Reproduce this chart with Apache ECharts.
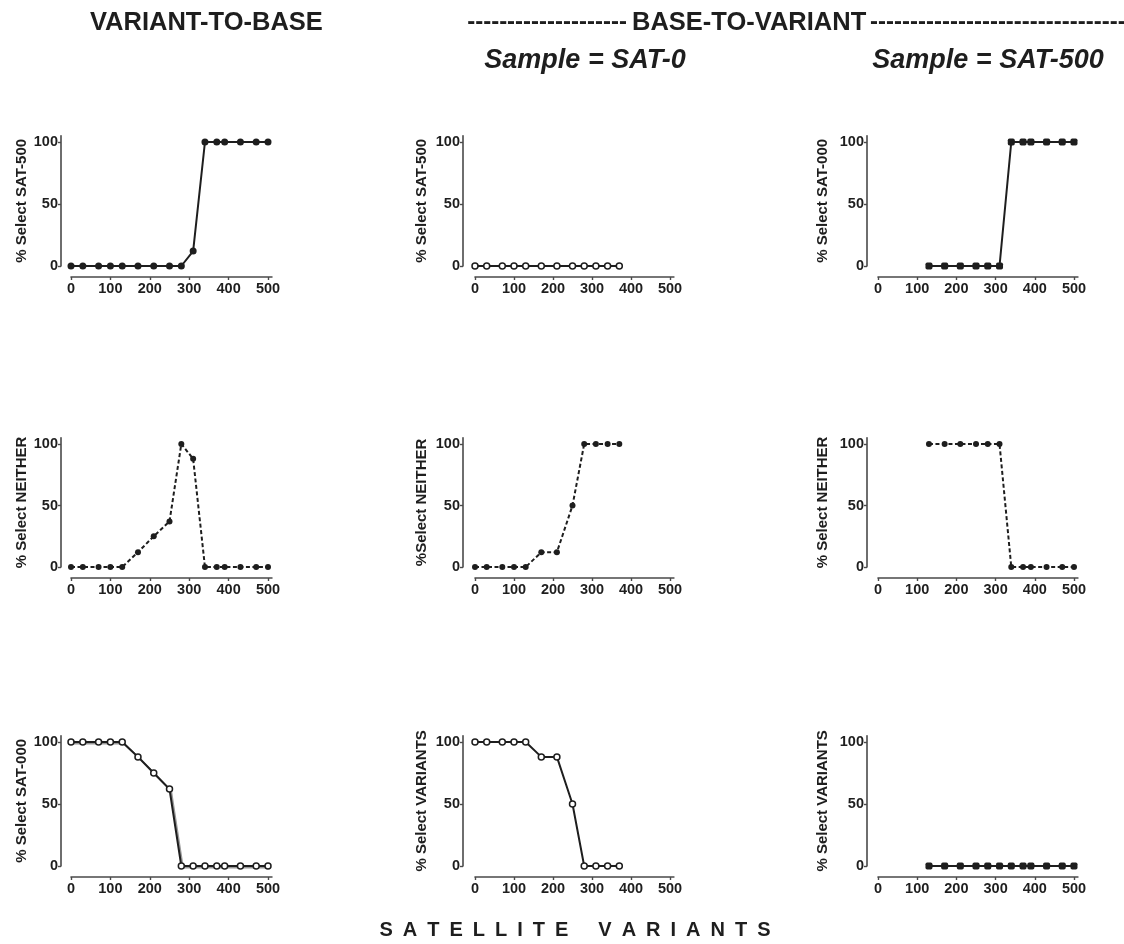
<!DOCTYPE html>
<html>
<head>
<meta charset="utf-8">
<script src="https://cdn.jsdelivr.net/npm/echarts@6/dist/echarts.min.js"></script>
<style>html,body{margin:0;padding:0;background:#fff}#c{width:1124px;height:944px}</style>
</head>
<body>
<div id="c"></div>
<script>
// ---- data ----
const xAll = [0,30,70,100,130,170,210,250,280,310,340,370,390,430,470,500];
const xSat0 = [0,30,70,100,130,170,210,250,280,310,340,370];
const xSat500 = [130,170,210,250,280,310,340,370,390,430,470,500];

const v2bSat500  = [0,0,0,0,0,0,0,0,0,12,100,100,100,100,100,100];
const v2bNeither = [0,0,0,0,0,12,25,37,100,88,0,0,0,0,0,0];
const v2bSat000  = [100,100,100,100,100,88,75,62,0,0,0,0,0,0,0,0];

const s0Sat500   = [0,0,0,0,0,0,0,0,0,0,0,0];
const s0Neither  = [0,0,0,0,0,12,12,50,100,100,100,100];
const s0Variants = [100,100,100,100,100,88,88,50,0,0,0,0];

const s500Sat000   = [0,0,0,0,0,0,100,100,100,100,100,100];
const s500Neither  = [100,100,100,100,100,100,0,0,0,0,0,0];
const s500Variants = [0,0,0,0,0,0,0,0,0,0,0,0];

const xTicks = [0,100,200,300,400,500];
const yTicks = [0,50,100];

const yNames = [
  ['% Select SAT-500','% Select SAT-500','% Select SAT-000'],
  ['% Select NEITHER','%Select NEITHER','% Select NEITHER'],
  ['% Select SAT-000','% Select VARIANTS','% Select VARIANTS']
];
const panelX = [[xAll,xSat0,xSat500],[xAll,xSat0,xSat500],[xAll,xSat0,xSat500]];
const panelY = [[v2bSat500,s0Sat500,s500Sat000],[v2bNeither,s0Neither,s500Neither],[v2bSat000,s0Variants,s500Variants]];

// ---- layout / style ----
const colX0 = [71, 475, 878];
const colX500 = [268, 670, 1074];
const colYOff = [10, 12, 11];
const colNameGap = [32, 34, 37];
const rowY0 = [266, 567, 866];
const rowY100 = [142, 444, 742];
const XMAX = 510, YMAX = 105;
const FONT = '"Liberation Sans", Arial, sans-serif';
const INK = '#1e1e1e';
const AX = '#4a4a4a';

// marker styles per panel: [symbol, size, filled]
const marks = [
  [['circle',7,true],['circle',6,false],['roundRect',7,true]],
  [['circle',6,true],['circle',6,true],['circle',6,true]],
  [['circle',6,false],['circle',6,false],['roundRect',7,true]]
];

const grids=[], xAxes=[], yAxes=[], series=[];
let idx = 0;
for (let r=0;r<3;r++){
  for (let c=0;c<3;c++){
    const h = (rowY0[r]-rowY100[r]) * YMAX/100;
    const w = (colX500[c]-colX0[c]) * XMAX/500;
    grids.push({left: colX0[c], top: rowY0[r]-h, width: w, height: h});
    xAxes.push({
      gridIndex: idx, type:'value', min:0, max:XMAX, offset:11,
      axisLine:{show:true, onZero:false, lineStyle:{color:AX, width:1.6}},
      axisTick:{show:true, length:3, customValues:xTicks, lineStyle:{color:AX, width:1.4}},
      axisLabel:{customValues:xTicks, color:INK, fontWeight:'bold', fontSize:14.5, fontFamily:FONT, margin:4},
      splitLine:{show:false}
    });
    yAxes.push({
      gridIndex: idx, type:'value', min:0, max:YMAX, offset:colYOff[c],
      name: yNames[r][c], nameLocation:'middle', nameGap: colNameGap[c],
      nameTextStyle:{color:INK, fontWeight:'bold', fontSize:15, fontFamily:FONT},
      axisLine:{show:true, onZero:false, lineStyle:{color:AX, width:1.6}},
      axisTick:{show:true, length:3, customValues:yTicks, lineStyle:{color:AX, width:1.4}},
      axisLabel:{customValues:yTicks, color:INK, fontWeight:'bold', fontSize:14.5, fontFamily:FONT, margin:3},
      splitLine:{show:false}
    });
    const xs = panelX[r][c], ys = panelY[r][c];
    const m = marks[r][c];
    const lineStyle = {color:INK, width:2, type: r===1 ? [4,2.5] : 'solid'};
    if (r===2 && c===0){ lineStyle.shadowColor='#999'; lineStyle.shadowOffsetX=1.5; lineStyle.shadowOffsetY=1.5; lineStyle.shadowBlur=0; }
    series.push({
      type:'line', xAxisIndex: idx, yAxisIndex: idx, clip:false,
      data: xs.map((x,i)=>[x, ys[i]]),
      symbol: m[0], symbolSize: m[1], showAllSymbol:true,
      lineStyle: lineStyle,
      itemStyle:{color: m[2]?INK:'#fff', borderColor:INK, borderWidth: m[2]?0:1.5},
      emphasis:{disabled:true}
    });
    idx++;
  }
}

const sp = '\u2002';
const bottomTitle = 'SATELLITE'.split('').join(sp) + sp+sp+sp + 'VARIANTS'.split('').join(sp);
const dashesL = '-'.repeat(20);
const dashesR = '-'.repeat(34);

const chart = echarts.init(document.getElementById('c'), null, {renderer:'canvas'});
chart.setOption({
  animation:false,
  backgroundColor:'#fff',
  grid: grids, xAxis: xAxes, yAxis: yAxes, series: series,
  graphic:[
    {type:'text', x:90, y:22.5, style:{text:'VARIANT-TO-BASE', font:'bold 25.5px '+FONT, fill:INK, align:'left', verticalAlign:'middle'}},
    {type:'text', x:627, y:22.5, style:{text:dashesL, font:'bold 24px '+FONT, fill:INK, align:'right', verticalAlign:'middle'}},
    {type:'text', x:632, y:22.5, style:{text:'BASE-TO-VARIANT', font:'bold 25.5px '+FONT, fill:INK, align:'left', verticalAlign:'middle'}},
    {type:'text', x:870, y:22.5, style:{text:dashesR, font:'bold 24px '+FONT, fill:INK, align:'left', verticalAlign:'middle'}},
    {type:'text', x:585, y:61, style:{text:'Sample = SAT-0', font:'italic bold 27px '+FONT, fill:INK, align:'center', verticalAlign:'middle'}},
    {type:'text', x:988, y:61, style:{text:'Sample = SAT-500', font:'italic bold 27px '+FONT, fill:INK, align:'center', verticalAlign:'middle'}},
    {type:'text', x:575, y:930, style:{text:bottomTitle, font:'bold 20px '+FONT, fill:INK, align:'center', verticalAlign:'middle'}}
  ]
});
</script>
</body>
</html>
